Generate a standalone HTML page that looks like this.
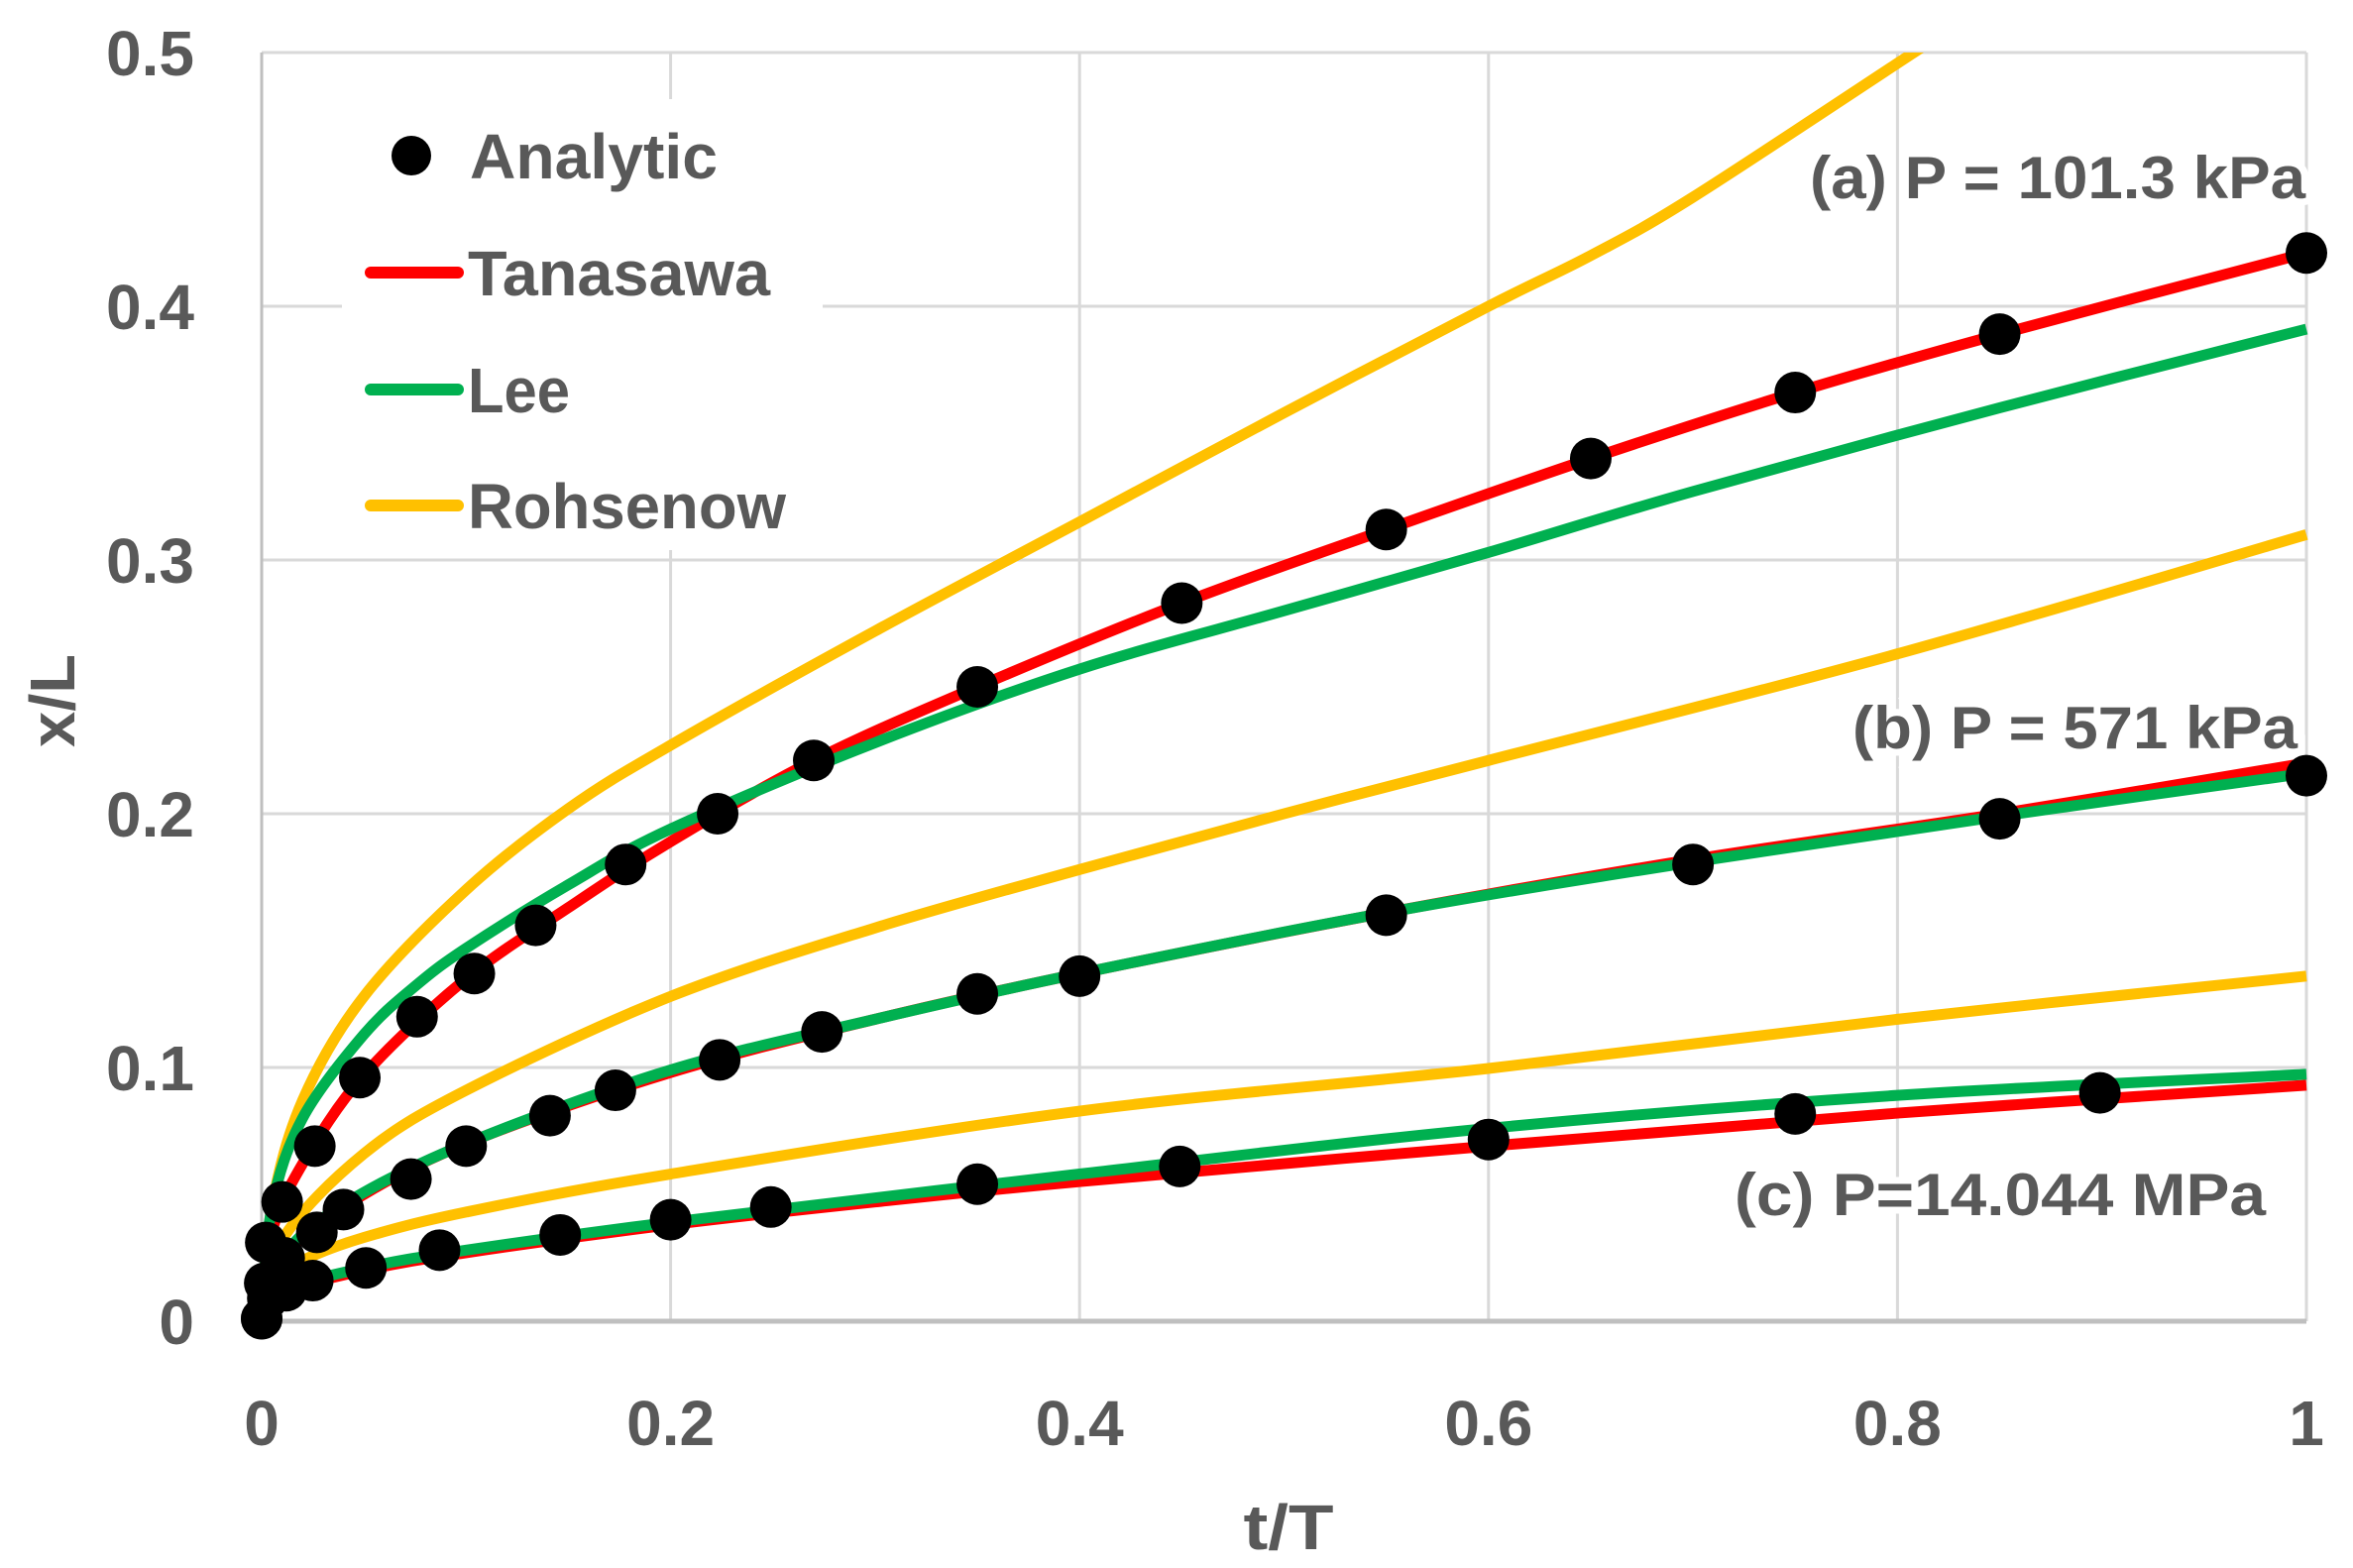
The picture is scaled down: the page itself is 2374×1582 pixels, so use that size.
<!DOCTYPE html>
<html><head><meta charset="utf-8"><style>
html,body{margin:0;padding:0;background:#fff;}
svg text{font-family:"Liberation Sans",sans-serif;font-weight:bold;fill:#595959;}
</style></head><body>
<svg id="chart" width="2374" height="1577" viewBox="0 0 2374 1577" xmlns="http://www.w3.org/2000/svg">
<g id="grid"></g>
<g id="series"></g>
<g id="ticks"></g>
<rect x="345" y="100" width="485" height="455" fill="#fff"/>
<g>
  <g><circle cx="415" cy="157" r="20" fill="#000"/><text x="474" y="180" font-size="64" textLength="250" lengthAdjust="spacingAndGlyphs">Analytic</text></g>
  <g><line x1="374" y1="275" x2="462" y2="275" stroke="#ff0000" stroke-width="12" stroke-linecap="round"/><text x="472" y="298" font-size="64" textLength="305" lengthAdjust="spacingAndGlyphs">Tanasawa</text></g>
  <g><line x1="374" y1="393" x2="462" y2="393" stroke="#00b050" stroke-width="12" stroke-linecap="round"/><text x="472" y="416" font-size="64" textLength="103" lengthAdjust="spacingAndGlyphs">Lee</text></g>
  <g><line x1="374" y1="510" x2="462" y2="510" stroke="#ffc000" stroke-width="12" stroke-linecap="round"/><text x="472" y="533" font-size="64" textLength="321" lengthAdjust="spacingAndGlyphs">Rohsenow</text></g>
</g>
<text x="1826" y="200" font-size="60" textLength="500" lengthAdjust="spacingAndGlyphs" style="paint-order:stroke" stroke="#fff" stroke-width="14">(a) P = 101.3 kPa</text>
<text x="1869" y="755" font-size="60" textLength="449" lengthAdjust="spacingAndGlyphs" style="paint-order:stroke" stroke="#fff" stroke-width="14">(b) P = 571 kPa</text>
<text x="1750" y="1226" font-size="60" textLength="536" lengthAdjust="spacingAndGlyphs" style="paint-order:stroke" stroke="#fff" stroke-width="14">(c) P=14.044 MPa</text>
<text x="0" y="0" font-size="64" text-anchor="middle" textLength="94" lengthAdjust="spacingAndGlyphs" transform="translate(75,707) rotate(-90)">x/L</text>
<text x="1300" y="1563" font-size="64" text-anchor="middle" textLength="91" lengthAdjust="spacingAndGlyphs">t/T</text>
</svg>
<script>
const xTicks=[0,0.2,0.4,0.6,0.8,1];
const xTickLabels=["0","0.2","0.4","0.6","0.8","1"];
const yTicks=[0,0.1,0.2,0.3,0.4,0.5];
const yTickLabels=["0","0.1","0.2","0.3","0.4","0.5"];
// Analytic points
const anaA_t=[0,0.002,0.01,0.026,0.048,0.076,0.104,0.134,0.178,0.223,0.27,0.35,0.45,0.55,0.65,0.75,0.85,1];
const anaA_y=[0.001,0.031,0.047,0.069,0.096,0.12,0.137,0.156,0.18,0.2,0.221,0.25,0.283,0.312,0.34,0.366,0.389,0.421];
const anaB_t=[0.0015,0.011,0.027,0.04,0.073,0.1,0.141,0.173,0.224,0.274,0.35,0.4,0.55,0.7,0.85,1];
const anaB_y=[0.015,0.025,0.035,0.044,0.056,0.069,0.081,0.091,0.103,0.114,0.129,0.136,0.16,0.18,0.198,0.215];
const anaC_t=[0,0.003,0.012,0.025,0.051,0.087,0.146,0.2,0.249,0.35,0.449,0.6,0.75,0.899];
const anaC_y=[0.001,0.009,0.012,0.016,0.021,0.028,0.034,0.04,0.045,0.054,0.061,0.0716,0.0817,0.09];
// Tanasawa
const tanA_t=[0,0.005,0.02,0.05,0.1,0.15,0.2,0.27,0.35,0.45,0.55,0.65,0.75,0.85,1];
const tanA_y=[0,0.035,0.062,0.097,0.135,0.163,0.189,0.221,0.25,0.283,0.312,0.34,0.366,0.389,0.421];
const tanB_t=[0,0.01,0.04,0.1,0.2,0.3,0.4,0.55,0.7,0.85,1];
const tanB_y=[0,0.024,0.045,0.07,0.098,0.119,0.137,0.161,0.182,0.2,0.22];
const tanC_t=[0,0.01,0.05,0.1,0.2,0.3,0.4,0.6,0.8,1];
const tanC_y=[0,0.011,0.02,0.027,0.038,0.047,0.055,0.069,0.082,0.093];
// Lee
const leeA_t=[0,0.005,0.02,0.05,0.075,0.1,0.15,0.2,0.3,0.4,0.5,0.6,0.7,0.85,1];
const leeA_y=[0,0.045,0.08,0.113,0.132,0.147,0.172,0.194,0.228,0.257,0.28,0.303,0.327,0.36,0.391];
const leeB_t=[0,0.01,0.04,0.1,0.2,0.3,0.4,0.55,0.7,0.85,1];
const leeB_y=[0,0.025,0.046,0.07,0.099,0.119,0.137,0.161,0.181,0.199,0.216];
const leeC_t=[0,0.01,0.05,0.1,0.2,0.4,0.6,0.8,1];
const leeC_y=[0,0.012,0.021,0.028,0.039,0.058,0.076,0.089,0.0973];
// Rohsenow
const rohA_t=[0,0.005,0.02,0.05,0.1,0.15,0.2,0.3,0.4,0.5,0.6,0.65,0.7,0.808,0.85];
const rohA_y=[0,0.045,0.087,0.128,0.17,0.202,0.227,0.272,0.315,0.358,0.4,0.42,0.443,0.5,0.522];
const rohB_t=[0,0.01,0.05,0.1,0.2,0.3,0.4,0.5,0.6,0.8,1];
const rohB_y=[0,0.032,0.066,0.091,0.128,0.155,0.178,0.2,0.221,0.263,0.31];
const rohC_t=[0,0.01,0.02,0.05,0.1,0.2,0.4,0.6,0.8,1];
const rohC_y=[0,0.018,0.024,0.033,0.043,0.058,0.0828,0.0996,0.119,0.136];

const X0=264,X1=2327,Y0=1333,Y1=53;
function sx(t){return X0+(X1-X0)*t;}
function sy(v){return Y0-(Y0-Y1)*v/0.5;}
const NS="http://www.w3.org/2000/svg";
const grid=document.getElementById('grid'),ser=document.getElementById('series'),tk=document.getElementById('ticks');
function mk(tag,attrs,parent){const e=document.createElementNS(NS,tag);for(const k in attrs)e.setAttribute(k,attrs[k]);parent.appendChild(e);return e;}
yTicks.forEach((v,i)=>{
  if(i>0){const l=mk('line',{x1:X0,x2:X1,y1:sy(v),y2:sy(v),stroke:'#d9d9d9','stroke-width':3},grid);
  
  }
  const t=mk('text',{x:196,y:sy(v)+23,'font-size':64,'text-anchor':'end'},tk);t.textContent=yTickLabels[i];
  
  
});
xTicks.forEach((v,i)=>{
  const l=mk('line',{x1:sx(v),x2:sx(v),y1:Y1,y2:Y0,stroke:'#d9d9d9','stroke-width':3},grid);
  
  
  const t=mk('text',{x:sx(v),y:1458,'font-size':64,'text-anchor':'middle'},tk);t.textContent=xTickLabels[i];
  
  
});
const ax=mk('line',{x1:X0-2,x2:X1,y1:Y0,y2:Y0,stroke:'#bfbfbf','stroke-width':5},grid);


const ay=mk('line',{x1:X0,x2:X0,y1:Y1,y2:Y0,stroke:'#bfbfbf','stroke-width':3},grid);



const cp=mk('clipPath',{id:'clip'},document.getElementById('chart'));
mk('rect',{x:X0-30,y:Y1,width:X1-X0+60,height:Y0-Y1+30},cp);
function smoothPath(ts,ys){
  const p=ts.map((t,i)=>[sx(t),sy(ys[i])]);
  let d='M'+p[0][0]+','+p[0][1];
  for(let i=0;i<p.length-1;i++){
    const p0=p[i-1]||p[i],p1=p[i],p2=p[i+1],p3=p[i+2]||p[i+1];
    const c1=[p1[0]+(p2[0]-p0[0])/6,p1[1]+(p2[1]-p0[1])/6];
    const c2=[p2[0]-(p3[0]-p1[0])/6,p2[1]-(p3[1]-p1[1])/6];
    d+=' C'+c1[0]+','+c1[1]+' '+c2[0]+','+c2[1]+' '+p2[0]+','+p2[1];
  }
  return d;
}
function line(ts,ys,color,name){
  const e=mk('path',{d:smoothPath(ts,ys),fill:'none',stroke:color,'stroke-width':11,'stroke-linejoin':'round','clip-path':'url(#clip)'},ser);
  
  
}
line(rohA_t,rohA_y,'#ffc000','rohsenow-line-a');
line(rohB_t,rohB_y,'#ffc000','rohsenow-line-b');
line(rohC_t,rohC_y,'#ffc000','rohsenow-line-c');
line(tanA_t,tanA_y,'#ff0000','tanasawa-line-a');
line(tanB_t,tanB_y,'#ff0000','tanasawa-line-b');
line(tanC_t,tanC_y,'#ff0000','tanasawa-line-c');
line(leeA_t,leeA_y,'#00b050','lee-line-a');
line(leeB_t,leeB_y,'#00b050','lee-line-b');
line(leeC_t,leeC_y,'#00b050','lee-line-c');
function pts(ts,ys,name){
  ts.forEach((t,i)=>{
    const c=mk('circle',{cx:sx(t),cy:sy(ys[i]),r:21,fill:'#000'},ser);
    
    
  });
}
pts(anaA_t,anaA_y,'analytic-point-a');
pts(anaB_t,anaB_y,'analytic-point-b');
pts(anaC_t,anaC_y,'analytic-point-c');
</script>
</body></html>
